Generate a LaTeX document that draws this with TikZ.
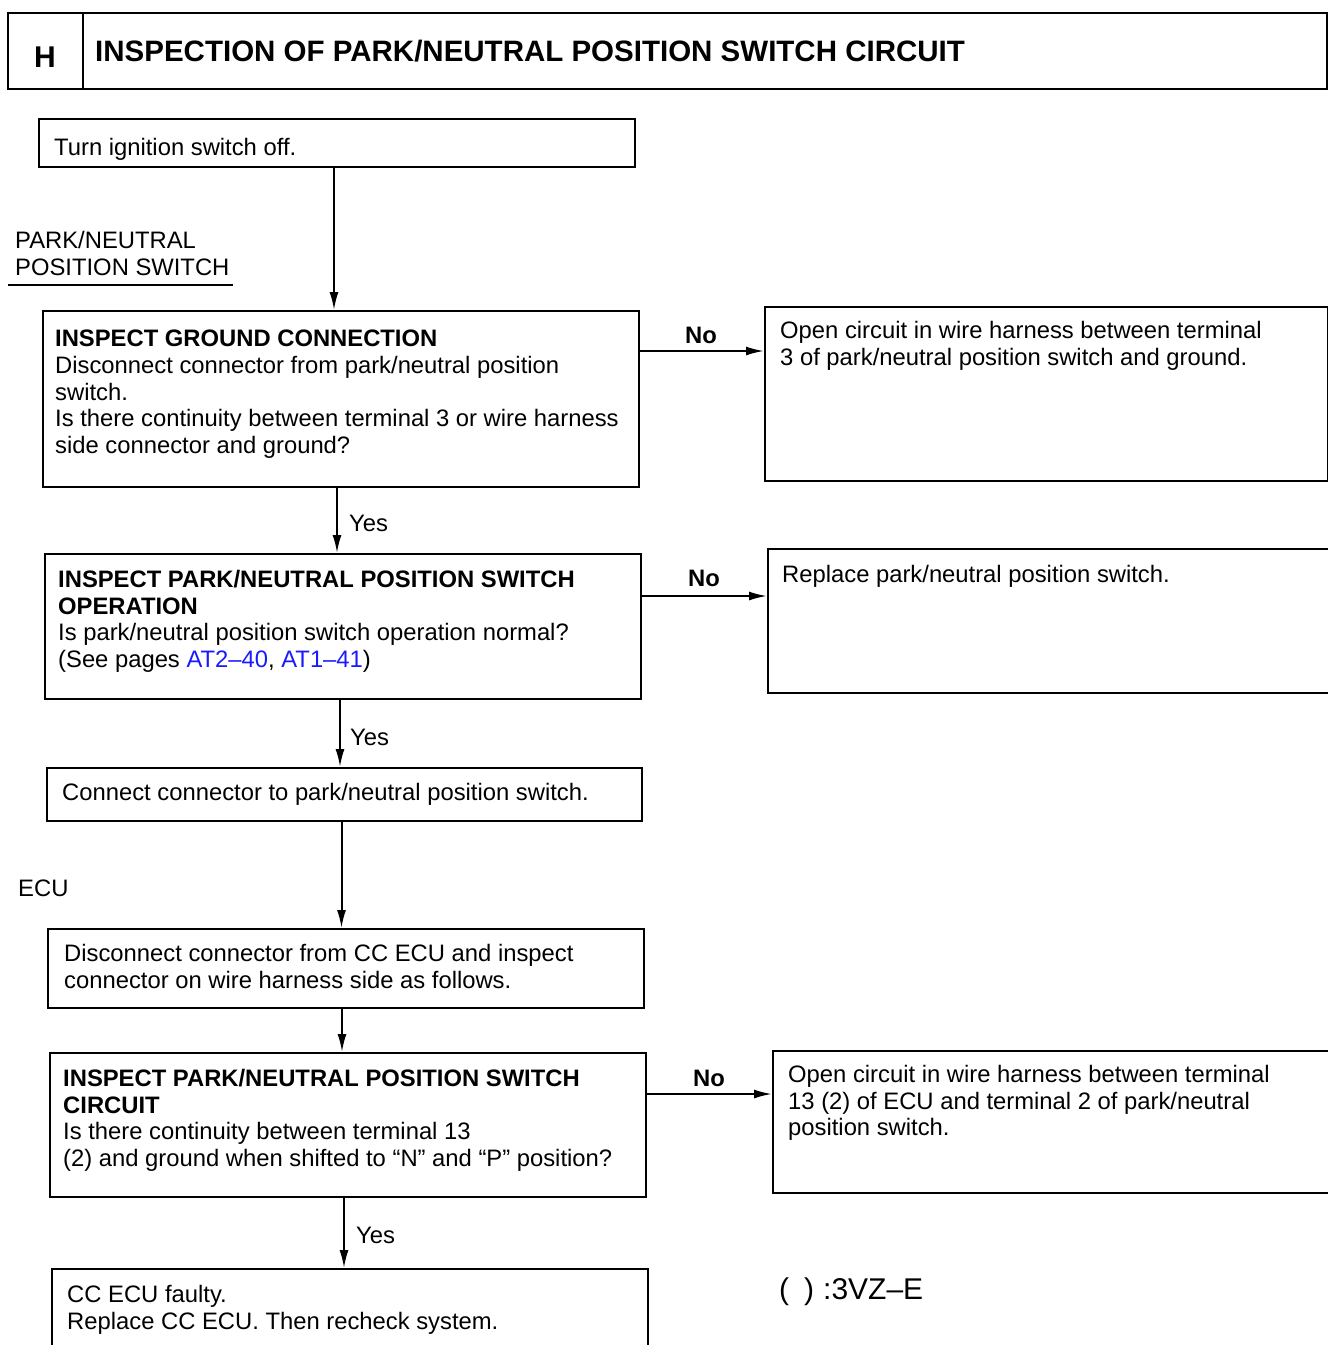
\documentclass[tikz,border=0pt]{standalone}
\usepackage{fontspec}
\setmainfont{Liberation Sans}
\usetikzlibrary{arrows.meta}
\definecolor{linkblue}{HTML}{1A1AFF}
\tikzset{
  box/.style={draw, line width=2pt, inner sep=0pt, anchor=north west},
  txt/.style={inner sep=0pt, anchor=north west, align=left, font=\fontsize{23.8}{26.6}\selectfont},
  lbl/.style={inner sep=0pt, font=\fontsize{23.8}{26.6}\selectfont},
  nolbl/.style={inner sep=0pt, font=\fontsize{23.8}{26.6}\selectfont\bfseries},
  arr/.style={line width=2pt, -{Latex[length=18pt,width=9pt]}},
}
\begin{document}
\begin{tikzpicture}[x=1pt,y=-1pt]
\clip (0,0) rectangle (1328,1345);
\fill[white] (0,0) rectangle (1328,1345);
% header
\node[box, minimum width=1319pt, minimum height=76pt] (hdr) at (7,12) {};
\node[box, minimum width=75pt, minimum height=76pt] (hbox) at (7,12) {};
\node[inner sep=0pt, font=\fontsize{30}{30}\selectfont\bfseries] (hlet) at (45,57) {H};
\node[inner sep=0pt, anchor=west, font=\fontsize{29.5}{30}\selectfont\bfseries] (title) at (95,51) {INSPECTION OF PARK/NEUTRAL POSITION SWITCH CIRCUIT};

% boxes
\node[box, minimum width=596pt, minimum height=48pt] (b1) at (38,118) {};
\node[txt] (t1) at (54,138) {Turn ignition switch off.};

\node[txt] (pn) at (15,231) {PARK/NEUTRAL\\POSITION SWITCH};
\coordinate (ulA) at (8,285);
\coordinate (ulB) at (233,285);
\draw[line width=1.6pt] (ulA) -- (ulB);

\node[box, minimum width=596pt, minimum height=176pt] (b2) at (42,310) {};
\node[txt] (t2) at (55,330) {\textbf{INSPECT GROUND CONNECTION}\\Disconnect connector from park/neutral position\\switch.\\Is there continuity between terminal 3 or wire harness\\side connector and ground?};

\node[box, minimum width=563pt, minimum height=174pt] (b3) at (764,306) {};
\node[txt] (t3) at (780,321) {Open circuit in wire harness between terminal\\3 of park/neutral position switch and ground.};

\node[box, minimum width=596pt, minimum height=145pt] (b4) at (44,553) {};
\node[txt] (t4) at (58,570) {\textbf{INSPECT PARK/NEUTRAL POSITION SWITCH}\\\textbf{OPERATION}\\Is park/neutral position switch operation normal?\\(See pages \textcolor{linkblue}{AT2–40}, \textcolor{linkblue}{AT1–41})};

\node[box, minimum width=570pt, minimum height=144pt] (b5) at (767,548) {};
\node[txt] (t5) at (782,565) {Replace park/neutral position switch.};

\node[box, minimum width=595pt, minimum height=53pt] (b6) at (46,767) {};
\node[txt] (t6) at (62,783) {Connect connector to park/neutral position switch.};

\node[txt] (ecu) at (18,880) {ECU};

\node[box, minimum width=596pt, minimum height=79pt] (b7) at (47,928) {};
\node[txt] (t7) at (64,944) {Disconnect connector from CC ECU and inspect\\connector on wire harness side as follows.};

\node[box, minimum width=596pt, minimum height=144pt] (b8) at (49,1052) {};
\node[txt] (t8) at (63,1069) {\textbf{INSPECT PARK/NEUTRAL POSITION SWITCH}\\\textbf{CIRCUIT}\\Is there continuity between terminal 13\\(2) and ground when shifted to “N” and “P” position?};

\node[box, minimum width=566pt, minimum height=142pt] (b9) at (772,1050) {};
\node[txt] (t9) at (788,1065) {Open circuit in wire harness between terminal\\13 (2) of ECU and terminal 2 of park/neutral\\position switch.};

\node[box, minimum width=596pt, minimum height=120pt] (b10) at (51,1268) {};
\node[txt] (t10) at (67,1285) {CC ECU faulty.\\Replace CC ECU. Then recheck system.};

\node[inner sep=0pt, anchor=west, font=\fontsize{30}{30}\selectfont] (note) at (779,1292) {(\hspace{0.5em})\hspace{0.3em}:3VZ–E};

% vertical arrows
\draw[arr] ([xshift=-3pt]b1.south) -- ([xshift=-3pt]b1.south |- b2.north);
\draw[arr] ([xshift=-4pt]b2.south) -- ([xshift=-4pt]b2.south |- b4.north);
\node[lbl, anchor=west] (y1) at (349,523) {Yes};
\draw[arr] ([xshift=-3pt]b4.south) -- ([xshift=-3pt]b4.south |- b6.north);
\node[lbl, anchor=west] (y2) at (350,737) {Yes};
\draw[arr] ([xshift=-3pt]b6.south) -- ([xshift=-3pt]b6.south |- b7.north);
\draw[arr] ([xshift=-4pt]b7.south) -- ([xshift=-4pt]b7.south |- b8.north);
\draw[arr] ([xshift=-4pt]b8.south) -- ([xshift=-4pt]b8.south |- b10.north);
\node[lbl, anchor=west] (y3) at (356,1235) {Yes};

% horizontal No arrows
\draw[arr] ([yshift=-41pt]b2.north east) -- ([yshift=-41pt]b2.north east -| b3.west);
\node[nolbl] (n1) at (701,335) {No};
\draw[arr] ([yshift=-43pt]b4.north east) -- ([yshift=-43pt]b4.north east -| b5.west);
\node[nolbl] (n2) at (704,578) {No};
\draw[arr] ([yshift=-42pt]b8.north east) -- ([yshift=-42pt]b8.north east -| b9.west);
\node[nolbl] (n3) at (709,1078) {No};
\end{tikzpicture}
\end{document}
